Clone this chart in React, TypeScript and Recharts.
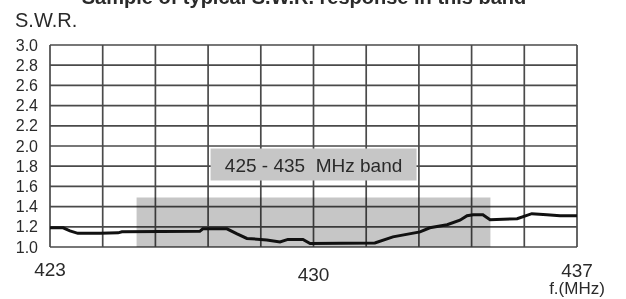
import {
  CartesianGrid,
  Line,
  LineChart,
  ReferenceArea,
  XAxis,
  YAxis,
} from "recharts";

// frequency (MHz) and S.W.R.
const freq = [
  423.0, 423.35, 423.53, 423.74, 424.33, 424.81, 424.91, 426.98, 427.06, 427.7,
  427.97, 428.23, 428.76, 429.11, 429.32, 429.72, 429.91, 431.63, 432.11, 432.83,
  433.09, 433.55, 433.89, 434.08, 434.24, 434.5, 434.69, 435.41, 435.8, 436.2,
  436.55, 437.0,
];
const swr = [
  1.19, 1.19, 1.16, 1.135, 1.135, 1.14, 1.15, 1.155, 1.18, 1.18,
  1.13, 1.085, 1.07, 1.05, 1.075, 1.075, 1.035, 1.04, 1.1, 1.15,
  1.19, 1.22, 1.265, 1.31, 1.32, 1.32, 1.27, 1.28, 1.33, 1.32,
  1.31, 1.31,
];

const gridFreq = [423, 424.4, 425.8, 427.2, 428.6, 430, 431.4, 432.8, 434.2, 435.6, 437];
const labelledFreq = [423, 430, 437];
const swrTicks = [1.0, 1.2, 1.4, 1.6, 1.8, 2.0, 2.2, 2.4, 2.6, 2.8, 3.0];

const bandStart = 425.3;
const bandEnd = 434.7;
const bandTop = 1.49;
const bandLabel = "425 - 435\u00a0 MHz band";

const data = freq.map((f, i) => ({ f, swr: swr[i] }));

const FONT = "'Liberation Sans', Arial, Helvetica, sans-serif";
const INK = "#2a2a2a";
const GRID = "#4a4a4a";
const BAND = "#c6c6c6";

// the scan has the three frequency labels at slightly different heights
const xLabelDrop: Record<number, number> = { 423: 29, 430: 34, 437: 30 };

// eslint-disable-next-line @typescript-eslint/no-explicit-any
function FreqTick({ x, y, payload }: any) {
  const v = payload.value as number;
  if (!labelledFreq.includes(v)) return null;
  return (
    <text
      x={x}
      y={y}
      dy={xLabelDrop[v] ?? 30}
      textAnchor="middle"
      fill={INK}
      fontSize={19}
      fontFamily={FONT}
    >
      {v}
    </text>
  );
}

// eslint-disable-next-line @typescript-eslint/no-explicit-any
function BandLabel({ viewBox }: any) {
  const { x, y } = viewBox;
  const bx = x + 74;
  const by = y - 49;
  return (
    <g>
      <rect x={bx} y={by} width={206} height={32} fill={BAND} />
      <text
        x={bx + 103}
        y={by + 23}
        textAnchor="middle"
        fill={INK}
        fontSize={19}
        fontFamily={FONT}
      >
        {bandLabel}
      </text>
    </g>
  );
}

export default function App() {
  return (
    <div style={{ position: "fixed", left: 0, top: 0, background: "#fff" }}>
      <LineChart
        width={626}
        height={299}
        data={data}
        margin={{ top: 45, right: 49, bottom: 0, left: 0 }}
      >
        <ReferenceArea
          x1={bandStart}
          x2={bandEnd}
          y1={1}
          y2={bandTop}
          fill={BAND}
          fillOpacity={1}
          stroke="none"
          label={<BandLabel />}
          style={{ mixBlendMode: "multiply" }}
        />
        <CartesianGrid stroke={GRID} strokeWidth={1.7} />
        <XAxis
          dataKey="f"
          type="number"
          domain={[423, 437]}
          ticks={gridFreq}
          interval={0}
          axisLine={false}
          tickLine={false}
          tickSize={0}
          tickMargin={0}
          height={52}
          tick={<FreqTick />}
        />
        <YAxis
          type="number"
          domain={[1, 3]}
          ticks={swrTicks}
          interval={0}
          axisLine={false}
          tickLine={false}
          tickSize={0}
          tickMargin={12}
          width={50}
          tickFormatter={(v: number) => v.toFixed(1)}
          tick={{ fill: INK, fontSize: 16, fontFamily: FONT }}
        />
        <Line
          type="linear"
          dataKey="swr"
          stroke="#111"
          strokeWidth={3}
          dot={false}
          isAnimationActive={false}
        />
        <text
          x={304}
          y={4}
          textAnchor="middle"
          fontSize={20}
          fontWeight="bold"
          fill={INK}
          fontFamily={FONT}
        >
          Sample of typical S.W.R. response in this band
        </text>
        <text x={15} y={27} fontSize={20} fill={INK} fontFamily={FONT}>
          S.W.R.
        </text>
        <text
          x={577}
          y={294}
          textAnchor="middle"
          fontSize={17}
          fill={INK}
          fontFamily={FONT}
        >
          f.(MHz)
        </text>
      </LineChart>
    </div>
  );
}
